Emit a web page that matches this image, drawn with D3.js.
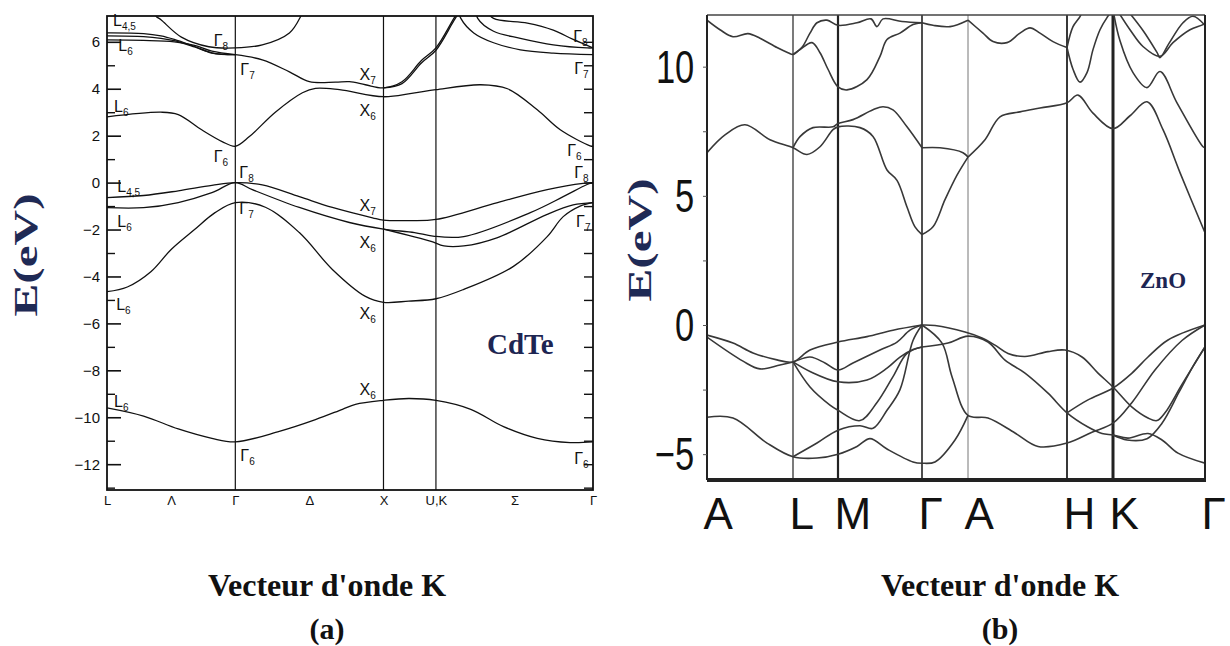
<!DOCTYPE html>
<html>
<head>
<meta charset="utf-8">
<script src="https://cdn.jsdelivr.net/npm/d3@7/dist/d3.min.js"></script>
<style>
  body { margin: 0; background: #fff; }
  svg { display: block; }
  .bandA { fill: none; stroke: #111; stroke-width: 1.3; }
  .bandB { fill: none; stroke: #383838; stroke-width: 1.6; }
  .blab { font-family: "Liberation Sans", Arial, sans-serif; font-size: 16px; fill: #111; }
  .axA text { font-family: "Liberation Sans", Arial, sans-serif; font-size: 15px; fill: #111; }
  .axB text { font-family: "Liberation Sans", Arial, sans-serif; fill: #111; }
  .title { font-family: "Liberation Serif", "Times New Roman", serif; font-weight: bold; }
</style>
</head>
<body>
<svg width="1230" height="646"></svg>
<script>
// ---- (a) CdTe ----
var cdteKpts = [0, 0.866, 1.866, 2.22, 3.28];
var cdteKlabPos = [0, 0.433, 0.866, 1.366, 1.866, 2.22, 2.75, 3.28];
var cdteKlab = ["L", "Λ", "Γ", "Δ", "X", "U,K", "Σ", "Γ"];
var cdteYticks = [6, 4, 2, 0, -2, -4, -6, -8, -10, -12];

var cdteS  = [[0,-9.6],[0.247,-9.95],[0.481,-10.5],[0.708,-10.9],[0.866,-11.05],[1.163,-10.6],[1.407,-10.1],[1.589,-9.66],[1.677,-9.45],[1.866,-9.28],[2.036,-9.2],[2.22,-9.28],[2.455,-9.66],[2.676,-10.4],[2.904,-10.9],[3.126,-11.08],[3.28,-11.05]];
var cdteV1 = [[0,-4.65],[0.137,-4.45],[0.296,-3.8],[0.433,-2.85],[0.591,-2.0],[0.729,-1.28],[0.866,-0.85],[1.069,-1.05],[1.298,-2.13],[1.521,-3.7],[1.744,-4.85],[1.866,-5.1],[2.036,-5.05],[2.22,-4.95],[2.408,-4.55],[2.743,-3.57],[2.971,-2.3],[3.079,-1.45],[3.193,-1.0],[3.28,-0.85]];
var cdteV2 = [[0,-1.07],[0.247,-1.07],[0.481,-0.85],[0.708,-0.43],[0.866,0],[0.981,-0.3],[1.298,-1.06],[1.636,-1.7],[1.866,-1.98],[2.076,-2.13],[2.2,-2.28],[2.408,-2.3],[2.857,-1.28],[3.079,-0.6],[3.24,-0.08],[3.28,0]];
var cdteV3 = [[0,-0.64],[0.247,-0.55],[0.481,-0.35],[0.708,-0.12],[0.866,0],[1.048,-0.1],[1.298,-0.6],[1.521,-1.06],[1.792,-1.5],[1.866,-1.6],[2.036,-1.62],[2.22,-1.57],[2.636,-0.85],[2.971,-0.3],[3.213,-0.03],[3.28,0]];
var cdteV4 = [[1.866,-1.98],[2.036,-2.25],[2.187,-2.5],[2.274,-2.7],[2.408,-2.7],[2.636,-2.34],[2.971,-1.35],[3.146,-0.95],[3.28,-0.85]];
var cdteC1 = [[0,2.8],[0.364,3.0],[0.481,2.9],[0.639,2.25],[0.777,1.75],[0.866,1.55],[0.961,1.96],[1.136,3.0],[1.319,3.83],[1.407,4.02],[1.569,3.96],[1.866,3.66],[2.056,3.8],[2.22,3.96],[2.522,4.17],[2.703,4.0],[2.904,3.1],[3.059,2.25],[3.26,1.57],[3.28,1.55]];
var cdteC2 = [[0.866,5.45],[1.048,5.23],[1.231,4.72],[1.366,4.3],[1.542,4.28],[1.636,4.3],[1.744,4.17],[1.866,4.04],[1.991,4.3],[2.122,5.2],[2.22,5.74],[2.341,7.0],[2.4,7.6]];
var cdteC2b = [[1.866,4.04],[1.991,4.22],[2.122,5.1],[2.22,5.64],[2.341,6.9],[2.41,7.6]];
var cdteArc = [[0.30,7.5],[0.33,7.1],[0.364,6.94],[0.502,6.2],[0.687,5.79],[0.866,5.74],[1.048,5.87],[1.231,6.38],[1.305,7.06],[1.33,7.5]];
var cdteL1 = [[0,6.38],[0.247,6.35],[0.364,6.25],[0.454,6.1],[0.591,5.8],[0.708,5.53],[0.866,5.45]];
var cdteL2 = [[0,6.25],[0.247,6.22],[0.364,6.15],[0.454,6.05],[0.591,5.78],[0.708,5.52],[0.866,5.45]];
var cdteL3 = [[0,6.08],[0.247,6.06],[0.454,6.0],[0.591,5.85],[0.708,5.6],[0.866,5.45]];
var cdteR1 = [[2.37,7.4],[2.388,7.0],[2.475,6.38],[2.609,5.96],[2.79,5.66],[3.012,5.52],[3.28,5.45]];
var cdteR2 = [[2.49,7.4],[2.502,7.0],[2.609,6.45],[2.79,6.15],[3.012,5.87],[3.24,5.74],[3.28,5.74]];
var cdteR3 = [[2.55,7.4],[2.609,7.0],[2.837,6.8],[3.012,6.5],[3.146,6.1],[3.28,5.74]];

var cdteBands = [cdteS, cdteV1, cdteV2, cdteV3, cdteV4, cdteC1, cdteC2, cdteC2b, cdteArc, cdteL1, cdteL2, cdteL3, cdteR1, cdteR2, cdteR3];

// band labels: [letter, subscript, k, E]
var cdteLabels = [
  ["L","4,5",0.041,6.68], ["L","6",0.076,5.62], ["Γ","8",0.72,5.83], ["Γ","7",0.9,4.6],
  ["L","6",0.048,3.02], ["Γ","6",0.72,0.89], ["L","4,5",0.069,-0.38], ["Γ","8",0.893,0.21],
  ["L","6",0.069,-1.91], ["Γ","7",0.893,-1.32], ["X","7",1.704,4.38], ["X","6",1.704,2.85],
  ["Γ","8",3.146,6.0], ["Γ","7",3.153,4.64], ["Γ","6",3.106,1.15], ["Γ","8",3.153,0.21],
  ["X","7",1.704,-1.23], ["X","6",1.704,-2.77], ["X","6",1.704,-5.83], ["Γ","7",3.166,-1.91],
  ["X","6",1.704,-9.06], ["Γ","6",3.153,-12.0], ["L","6",0.062,-5.45], ["L","6",0.048,-9.57],
  ["Γ","6",0.9,-11.87]
];

// ---- (b) ZnO ----
var znKpts = [0, 0.86, 1.31, 2.15, 2.61, 3.60, 4.06, 4.98];
var znKlab = ["A", "L", "M", "Γ", "A", "H", "K", "Γ"];
var znYticks = [10, 5, 0, -5];

var znV1 = [[0,-0.39],[0.26,-0.7],[0.46,-1.08],[0.70,-1.35],[0.86,-1.43],[1.03,-0.97],[1.31,-0.66],[1.60,-0.45],[1.86,-0.2],[2.15,0]];
var znV2 = [[0,-0.47],[0.36,-1.4],[0.53,-1.7],[0.73,-1.55],[0.86,-1.43],[1.03,-1.24],[1.18,-1.47],[1.31,-1.74],[1.46,-1.47],[1.73,-0.97],[1.90,-0.66],[2.03,-0.2],[2.15,0]];
var znV3 = [[0.86,-1.43],[1.03,-1.8],[1.31,-2.2],[1.60,-2.13],[1.80,-1.67],[1.93,-1.24],[2.06,-0.95],[2.15,-0.85]];
var znV4 = [[0.86,-1.43],[1.03,-2.4],[1.23,-3.1],[1.31,-3.3],[1.53,-3.7],[1.70,-3.0],[1.86,-2.0],[2.00,-1.1],[2.15,-0.85]];
var znV5 = [[0,-3.57],[0.26,-3.6],[0.60,-4.57],[0.86,-5.1],[1.10,-5.15],[1.31,-5.0],[1.50,-4.7],[1.63,-4.4],[1.80,-4.8],[2.06,-5.3],[2.15,-5.35],[2.28,-5.3],[2.48,-4.45],[2.61,-3.5]];
var znV6 = [[0.86,-5.1],[1.10,-4.57],[1.31,-4.07],[1.53,-3.9],[1.66,-4.0],[1.80,-3.3],[1.93,-2.5],[2.06,-0.6],[2.15,0]];
var znV7 = [[2.15,0],[2.28,-0.02],[2.58,-0.27],[2.75,-0.5],[2.88,-0.78],[3.01,-1.1],[3.18,-1.22],[3.41,-1.03],[3.58,-0.97],[3.75,-1.24],[3.91,-1.86],[4.06,-2.4],[4.25,-3.18],[4.41,-3.6],[4.50,-3.7],[4.58,-3.4],[4.75,-2.3],[4.98,-0.85]];
var znV8 = [[2.15,-0.85],[2.41,-0.7],[2.61,-0.43],[2.81,-0.66],[2.98,-1.36],[3.18,-1.86],[3.41,-2.64],[3.60,-3.4],[3.81,-3.95],[3.95,-4.2],[4.06,-4.26],[4.21,-4.38],[4.41,-4.2],[4.55,-4.45],[4.71,-4.96],[4.98,-5.35]];
var znV9 = [[2.15,0],[2.35,-0.7],[2.45,-2.0],[2.61,-3.5],[2.81,-3.6],[3.08,-4.18],[3.31,-4.7],[3.60,-4.57],[3.85,-4.15],[4.06,-3.8],[4.25,-3.0],[4.48,-1.74],[4.75,-0.6],[4.98,0]];
var znV10 = [[3.60,-3.4],[3.81,-2.9],[4.06,-2.44],[4.25,-1.86],[4.41,-1.24],[4.61,-0.58],[4.98,0]];
var znV11 = [[4.06,-4.26],[4.2,-4.45],[4.4,-4.4],[4.55,-3.8],[4.72,-2.6],[4.86,-1.6],[4.98,-0.85]];

var znC1 = [[0,6.67],[0.18,7.36],[0.38,7.75],[0.63,7.17],[0.86,6.86],[1.0,6.6],[1.13,6.9],[1.26,7.56],[1.31,7.67],[1.53,7.64],[1.66,7.3],[1.80,6.0],[1.90,5.6],[2.0,4.57],[2.08,3.8],[2.15,3.5]];
var znC2 = [[0.86,6.86],[0.93,7.29],[1.06,7.64],[1.26,7.67],[1.31,7.8],[1.46,7.95],[1.66,8.33],[1.76,8.45],[1.86,8.33],[2.0,7.67],[2.15,6.86]];
var znC3 = [[2.15,3.5],[2.26,3.8],[2.38,4.85],[2.50,5.8],[2.61,6.5]];
var znC4 = [[2.15,6.86],[2.33,6.86],[2.56,6.67],[2.61,6.5]];
var znC5 = [[2.61,6.5],[2.78,7.17],[2.93,8.06],[3.13,8.25],[3.33,8.4],[3.60,8.6],[3.71,8.9],[3.86,8.2],[4.06,7.6],[4.23,8.1],[4.40,8.64],[4.56,7.56],[4.73,5.9],[4.98,3.57]];
var znC6 = [[3.60,10.74],[3.66,9.9],[3.73,9.4],[3.80,9.77],[3.86,10.66],[3.93,11.43],[4.0,11.9],[4.06,12.2]];
var znC7 = [[4.06,12.2],[4.13,11.0],[4.26,9.77],[4.40,9.19],[4.53,9.81],[4.70,8.6],[4.96,6.9],[4.98,6.86]];
var znC8 = [[3.60,10.74],[3.66,11.55],[3.73,11.94],[3.76,12.2]];
var znU1 = [[0,11.8],[0.13,11.43],[0.26,11.16],[0.41,11.28],[0.53,11.1],[0.70,10.74],[0.81,10.54],[0.86,10.47],[0.93,10.66],[1.05,10.93],[1.13,10.54],[1.21,9.9],[1.31,9.22],[1.40,9.1],[1.60,9.5],[1.73,10.4],[1.80,11.05],[1.93,11.3],[2.06,11.63],[2.15,11.7]];
var znU2 = [[0.86,10.47],[0.95,10.75],[1.03,11.3],[1.10,11.7],[1.20,11.8],[1.31,11.6],[1.50,11.7],[1.64,11.85],[1.70,11.55],[1.76,11.85],[1.95,11.75],[2.15,11.7]];
var znU3 = [[2.15,11.7],[2.26,11.6],[2.43,11.55],[2.61,11.8]];
var znU4 = [[2.61,11.8],[2.76,11.3],[2.86,10.97],[3.00,10.93],[3.13,11.3],[3.23,11.5],[3.33,11.3],[3.46,10.97],[3.60,10.74]];
var znU5 = [[4.10,12.2],[4.23,11.43],[4.36,10.78],[4.53,10.4],[4.66,10.93],[4.83,11.43],[4.96,11.63],[4.98,11.7]];
var znU6 = [[4.20,12.2],[4.36,11.4],[4.50,10.55],[4.53,10.35],[4.62,10.9],[4.76,11.7],[4.86,11.95],[4.98,11.6]];

var znBands = [znV1, znV2, znV3, znV4, znV5, znV6, znV7, znV8, znV9, znV10, znV11,
               znC1, znC2, znC3, znC4, znC5, znC6, znC7, znC8, znU1, znU2, znU3, znU4, znU5, znU6];

var svg = d3.select("svg");

// ================= panel (a) =================
var xA = d3.scaleLinear().domain([0, 3.28]).range([107, 593]),
    yA = d3.scaleLinear().domain([-13.1, 7.1]).range([490, 16]);

var gA = svg.append("g");
gA.append("clipPath").attr("id", "clipA")
  .append("rect").attr("x", xA(0)).attr("y", yA(7.1))
  .attr("width", xA(3.28) - xA(0)).attr("height", yA(-13.1) - yA(7.1));

var lineA = d3.line()
  .x(function(d) { return xA(d[0]); })
  .y(function(d) { return yA(d[1]); })
  .curve(d3.curveCatmullRom.alpha(0.5));

gA.append("g").attr("clip-path", "url(#clipA)")
  .selectAll("path").data(cdteBands).enter().append("path")
  .attr("class", "bandA").attr("d", lineA);

// symmetry lines
gA.selectAll(".sym").data(cdteKpts.slice(1, 4)).enter().append("line")
  .attr("x1", function(d) { return xA(d); }).attr("x2", function(d) { return xA(d); })
  .attr("y1", yA(7.1)).attr("y2", yA(-13.1))
  .attr("stroke", "#111").attr("stroke-width", 1.2);

// frame
gA.append("rect").attr("x", xA(0)).attr("y", yA(7.1))
  .attr("width", xA(3.28) - xA(0)).attr("height", yA(-13.1) - yA(7.1))
  .attr("fill", "none").attr("stroke", "#111").attr("stroke-width", 1.8);

// left ticks (major inward + minor)
gA.append("g").attr("transform", "translate(" + xA(0) + ",0)")
  .call(d3.axisRight(yA).tickValues(cdteYticks).tickSize(14).tickFormat(""))
  .call(function(g) { g.select(".domain").remove(); g.selectAll("line").attr("stroke", "#111").attr("stroke-width", 1.6); });
gA.append("g").attr("transform", "translate(" + xA(0) + ",0)")
  .call(d3.axisRight(yA).tickValues(d3.range(-13, 7, 2)).tickSize(8).tickFormat(""))
  .call(function(g) { g.select(".domain").remove(); g.selectAll("line").attr("stroke", "#111").attr("stroke-width", 1.4); });
// right ticks
gA.append("g").attr("transform", "translate(" + xA(3.28) + ",0)")
  .call(d3.axisLeft(yA).tickValues(d3.range(-13, 7, 1)).tickSize(9).tickFormat(""))
  .call(function(g) { g.select(".domain").remove(); g.selectAll("line").attr("stroke", "#111").attr("stroke-width", 1.4); });
// left labels
gA.append("g").attr("class", "axA").attr("transform", "translate(" + xA(0) + ",0)")
  .call(d3.axisLeft(yA).tickValues(cdteYticks).tickSize(0).tickPadding(7)
    .tickFormat(function(d) { return d < 0 ? "\u2212" + (-d) : d; }))
  .call(function(g) { g.select(".domain").remove(); });
// bottom labels
gA.append("g").attr("class", "axA").attr("transform", "translate(0," + yA(-13.1) + ")")
  .call(d3.axisBottom(xA).tickValues(cdteKlabPos).tickSize(0).tickPadding(6)
    .tickFormat(function(d, i) { return cdteKlab[i]; }))
  .call(function(g) { g.select(".domain").remove(); g.selectAll("text").style("font-size", "13px"); });

// band labels
var lab = gA.selectAll(".blab").data(cdteLabels).enter().append("text")
  .attr("class", "blab")
  .attr("x", function(d) { return xA(d[2]); })
  .attr("y", function(d) { return yA(d[3]); })
  .text(function(d) { return d[0]; });
lab.append("tspan").attr("dy", 4).style("font-size", "10px").text(function(d) { return d[1]; });

gA.append("text").attr("class", "title").attr("x", 487).attr("y", 354)
  .style("font-size", "29px").style("fill", "#1d2552").text("CdTe");

// ================= panel (b) =================
var xB = d3.scaleLinear().domain([0, 4.98]).range([707, 1205]),
    yB = d3.scaleLinear().domain([-6, 12]).range([480, 15]);

var gB = svg.append("g");
gB.append("clipPath").attr("id", "clipB")
  .append("rect").attr("x", xB(0)).attr("y", yB(12))
  .attr("width", xB(4.98) - xB(0)).attr("height", yB(-6) - yB(12));

var lineB = d3.line()
  .x(function(d) { return xB(d[0]); })
  .y(function(d) { return yB(d[1]); })
  .curve(d3.curveCatmullRom.alpha(0.5));

var symW = [1.2, 2.2, 1.6, 1, 1.8, 3];
gB.selectAll(".sym").data(znKpts.slice(1, 7)).enter().append("line")
  .attr("x1", function(d) { return xB(d); }).attr("x2", function(d) { return xB(d); })
  .attr("y1", yB(12)).attr("y2", yB(-6))
  .attr("stroke", function(d, i) { return i === 3 ? "#777" : "#222"; })
  .attr("stroke-width", function(d, i) { return symW[i]; });

gB.append("g").attr("clip-path", "url(#clipB)")
  .selectAll("path").data(znBands).enter().append("path")
  .attr("class", "bandB").attr("d", lineB);

// frame
gB.append("line").attr("x1", xB(0)).attr("x2", xB(4.98)).attr("y1", yB(12)).attr("y2", yB(12))
  .attr("stroke", "#444").attr("stroke-width", 1.5);
gB.append("line").attr("x1", xB(0)).attr("x2", xB(0)).attr("y1", yB(12)).attr("y2", yB(-6))
  .attr("stroke", "#222").attr("stroke-width", 2);
gB.append("line").attr("x1", xB(4.98)).attr("x2", xB(4.98)).attr("y1", yB(12)).attr("y2", yB(-6))
  .attr("stroke", "#222").attr("stroke-width", 2);
gB.append("line").attr("x1", xB(0)).attr("x2", xB(4.98) + 1).attr("y1", yB(-6)).attr("y2", yB(-6))
  .attr("stroke", "#222").attr("stroke-width", 4);

// small ticks
gB.append("g").attr("transform", "translate(" + xB(0) + ",0)")
  .call(d3.axisLeft(yB).tickValues(d3.range(-5, 12, 2.5)).tickSize(4).tickFormat(""))
  .call(function(g) { g.select(".domain").remove(); g.selectAll("line").attr("stroke", "#555"); });
// y labels (condensed)
gB.append("g").attr("class", "axB").attr("transform", "translate(" + xB(0) + ",0)")
  .call(d3.axisLeft(yB).tickValues(znYticks).tickSize(0).tickPadding(17).tickFormat(d3.format("d")))
  .call(function(g) {
    g.select(".domain").remove();
    g.selectAll("text").style("font-size", "46px").attr("dy", "0.34em")
      .attr("transform", "scale(0.75,1)");
  });
// x labels
gB.append("g").attr("class", "axB").attr("transform", "translate(0," + yB(-6) + ")")
  .call(d3.axisBottom(xB).tickValues(znKpts).tickSize(0).tickPadding(18)
    .tickFormat(function(d, i) { return znKlab[i]; }))
  .call(function(g) {
    g.select(".domain").remove();
    g.selectAll("text").style("font-size", "44px").attr("text-anchor", "start").attr("dx", -4);
  });

gB.append("text").attr("class", "title").attr("x", 1140).attr("y", 288)
  .style("font-size", "23px").style("fill", "#1d2552").text("ZnO");

// ================= titles =================
svg.append("text").attr("class", "title")
  .attr("transform", "translate(37,255) rotate(-90) scale(1.45,1)")
  .attr("text-anchor", "middle").style("font-size", "34px").style("fill", "#1f2a55")
  .text("E(eV)");
svg.append("text").attr("class", "title")
  .attr("transform", "translate(651,240) rotate(-90) scale(1.45,1)")
  .attr("text-anchor", "middle").style("font-size", "34px").style("fill", "#1f2a55")
  .text("E(eV)");

[[327, "(a)"], [1000, "(b)"]].forEach(function(p) {
  svg.append("text").attr("class", "title").attr("x", p[0]).attr("y", 596)
    .attr("text-anchor", "middle").style("font-size", "32px").style("fill", "#111")
    .text("Vecteur d'onde K");
  svg.append("text").attr("class", "title").attr("x", p[0]).attr("y", 639)
    .attr("text-anchor", "middle").style("font-size", "30px").style("fill", "#111")
    .text(p[1]);
});
</script>
</body>
</html>
